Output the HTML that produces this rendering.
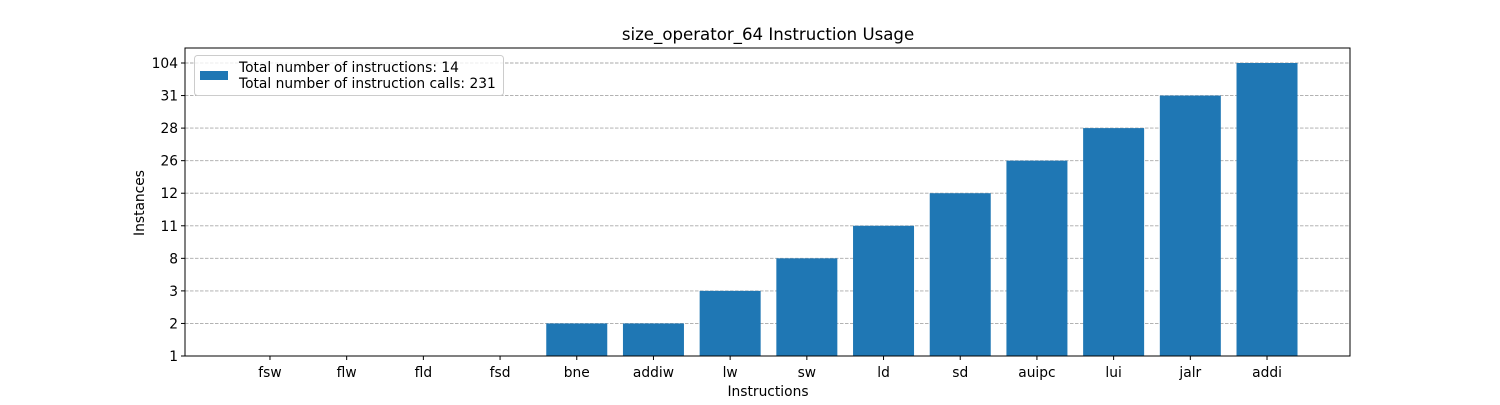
<!DOCTYPE html>
<html><head><meta charset="utf-8"><style>
body{margin:0;background:#fff;font-family:"Liberation Sans","DejaVu Sans",sans-serif}
svg text{font-family:"DejaVu Sans","Liberation Sans",sans-serif}
</style></head><body>
<svg id="c" width="1500" height="400" xmlns="http://www.w3.org/2000/svg"></svg>
<script>
const categories=["fsw","flw","fld","fsd","bne","addiw","lw","sw","ld","sd","auipc","lui","jalr","addi"];
const values=[1,1,1,1,2,2,3,8,11,12,26,28,31,104];
const tickLabels=[1,2,3,8,11,12,26,28,31,104];
const NS="http://www.w3.org/2000/svg";
const svg=document.getElementById('c');
const L=185,R=1350,T=48,B=356;
const step=(B-63)/(tickLabels.length-1);
function yPos(v){return B-tickLabels.indexOf(v)*step;}
const xs=(R-L)/15.19;
function xPos(i){return L+(i+1.108)*xs;}
function mk(t,a,txt){const e=document.createElementNS(NS,t);for(const k in a)e.setAttribute(k,a[k]);if(txt!==undefined)e.textContent=txt;svg.appendChild(e);return e;}
const FS=13.8;
let e;
e=mk('text',{x:768,y:40,'text-anchor':'middle','font-size':16.6,fill:'#000'},'size_operator_64 Instruction Usage');


tickLabels.forEach(v=>{const y=yPos(v);
 e=mk('line',{x1:L,x2:R,y1:y,y2:y,stroke:'#a8a8a8','stroke-dasharray':'3.5,1.5','stroke-width':0.9});
 
 
 mk('line',{x1:L-4,x2:L,y1:y,y2:y,stroke:'#000'});
 e=mk('text',{x:L-7,y:y+5,'text-anchor':'end','font-size':FS,fill:'#000'},v);
 
 
});
const bw=61;
categories.forEach((c,i)=>{const x=xPos(i);const y=yPos(values[i]);
 e=mk('rect',{x:x-bw/2,y:y,width:bw,height:B-y,fill:'#1f77b4'});
 
 
 mk('line',{x1:x,x2:x,y1:B,y2:B+4,stroke:'#000'});
 e=mk('text',{x:x,y:B+21,'text-anchor':'middle','font-size':FS,fill:'#000'},c);
 
 
});
e=mk('rect',{x:L,y:T,width:R-L,height:B-T,fill:'none',stroke:'#000','stroke-width':1});


e=mk('text',{x:768,y:396,'text-anchor':'middle','font-size':FS,fill:'#000'},'Instructions');


e=mk('text',{x:144,y:203,'text-anchor':'middle','font-size':FS,fill:'#000',transform:'rotate(-90 144 203)'},'Instances');


e=mk('rect',{x:194.5,y:55.5,width:309,height:40,rx:3,fill:'#fff','fill-opacity':0.8,stroke:'#ccc'});


e=mk('rect',{x:200,y:71,width:28,height:9,fill:'#1f77b4'});


const sum=values.reduce((a,b)=>a+b,0);
e=mk('text',{x:239,y:72,'font-size':FS,fill:'#000'},'Total number of instructions: '+categories.length);


e=mk('text',{x:239,y:88,'font-size':FS,fill:'#000'},'Total number of instruction calls: '+sum);


</script>
</body></html>
